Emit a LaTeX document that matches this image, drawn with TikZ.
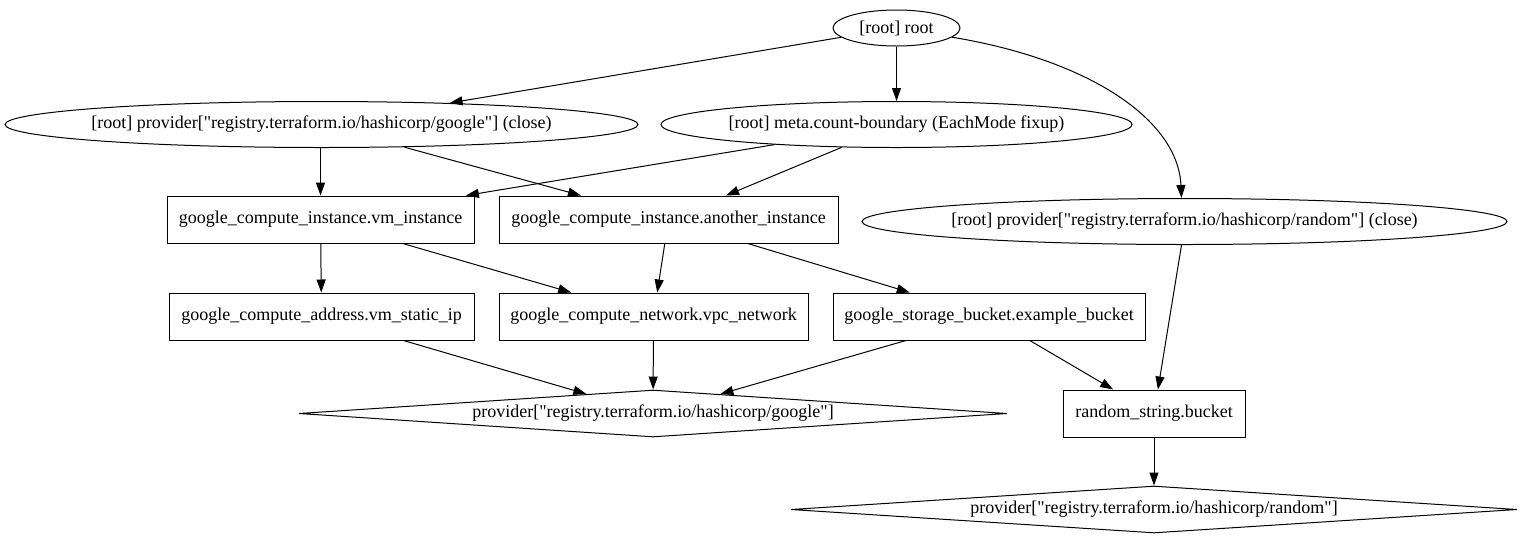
\documentclass[tikz,border=0pt]{standalone}
\usepackage{fontspec}
\setmainfont{Liberation Serif}
\usetikzlibrary{shapes.geometric,arrows.meta,calc}
\newcommand\lbl[1]{\makebox[0pt]{#1}}
\newcommand\qd{\textquotedbl}
\begin{document}
\begin{tikzpicture}[x=1pt,y=-1pt,
  base/.style={draw, line width=1pt, inner sep=0pt, font=\fontsize{18}{20}\selectfont},
  ell/.style={base, ellipse, minimum height=46pt},
  box/.style={base, rectangle, minimum height=47pt},
  dia/.style={base, diamond, aspect=15, minimum height=47pt},
  edge/.style={line width=1pt, -{Triangle[length=13pt,width=9pt]}}]
\useasboundingbox (0,0) rectangle (1522,539);
\node[ell, minimum width=127pt, minimum height=36pt] (root) at (896.5,28) {\lbl{[root] root}};
\node[ell, minimum width=633pt] (gclose) at (321.5,124.5) {\lbl{[root] provider[\qd registry.terraform.io/hashicorp/google\qd] (close)}};
\node[ell, minimum width=471pt] (meta) at (896.5,124.5) {\lbl{[root] meta.count-boundary (EachMode fixup)}};
\node[ell, minimum width=645pt] (rclose) at (1184.5,221.5) {\lbl{[root] provider[\qd registry.terraform.io/hashicorp/random\qd] (close)}};
\node[box, minimum width=307pt] (vm) at (320.5,219.5) {\lbl{google\_compute\_instance.vm\_instance}};
\node[box, minimum width=339pt] (another) at (668.5,219.5) {\lbl{google\_compute\_instance.another\_instance}};
\node[box, minimum width=305pt] (ip) at (321.5,316.5) {\lbl{google\_compute\_address.vm\_static\_ip}};
\node[box, minimum width=309pt] (vpc) at (653.5,316.5) {\lbl{google\_compute\_network.vpc\_network}};
\node[box, minimum width=312pt] (bucket) at (989,316.5) {\lbl{google\_storage\_bucket.example\_bucket}};
\node[box, minimum width=182pt] (rstr) at (1154,413.5) {\lbl{random\_string.bucket}};
\node[dia, minimum width=708pt] (gprov) at (653,413.5) {\lbl{provider[\qd registry.terraform.io/hashicorp/google\qd]}};
\node[dia, minimum width=726pt] (rprov) at (1154,509.5) {\lbl{provider[\qd registry.terraform.io/hashicorp/random\qd]}};
\draw[edge] (root) -- (gclose);
\draw[edge] (root) -- (meta);
\draw[edge] (root) .. controls (1090,60) and (1178,120) .. ($(rclose.north)+(-3,0)$);
\draw[edge] (gclose.south -| vm.north) -- (vm);
\draw[edge] (gclose) -- (another);
\draw[edge] (meta) -- (vm);
\draw[edge] (meta) -- (another);
\draw[edge] (vm) -- (ip);
\draw[edge] (vm) -- (vpc);
\draw[edge] (another) -- (vpc);
\draw[edge] (another) -- (bucket);
\draw[edge] ($(rclose.south)+(-3,0)$) -- (rstr);
\draw[edge] (ip) -- (gprov);
\draw[edge] (vpc) -- (gprov);
\draw[edge] (bucket) -- (gprov);
\draw[edge] (bucket) -- (rstr);
\draw[edge] (rstr) -- (rprov);
\end{tikzpicture}
\end{document}
